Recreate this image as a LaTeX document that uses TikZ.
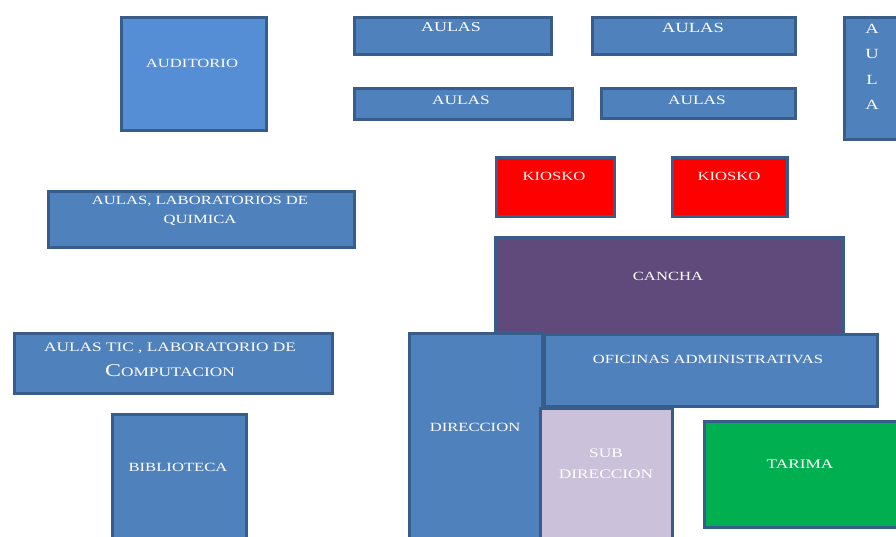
\documentclass[tikz,border=0pt]{standalone}
\usepackage{fontspec}
\newfontfamily\lblfont[FakeStretch=1.33]{Liberation Serif}
\definecolor{blu}{HTML}{4F81BD}
\definecolor{audblu}{HTML}{558ED5}
\definecolor{bord}{HTML}{385D8A}
\definecolor{cancha}{HTML}{604A7B}
\definecolor{lila}{HTML}{CCC1DA}
\definecolor{verde}{HTML}{00B050}
\definecolor{rojo}{HTML}{FF0000}
\tikzset{
  room/.style={draw=bord, line width=2.5pt, anchor=north west, inner sep=0pt, fill=blu},
  lbl/.style={text=white, font=\lblfont\fontsize{12.5}{19}\selectfont, align=center, inner sep=0pt},
}
\begin{document}
\begin{tikzpicture}[x=1pt,y=-1pt]
\clip (0,0) rectangle (896,536);
\fill[white] (0,0) rectangle (896,536);
% rooms
\node[room, fill=audblu, minimum width=145pt, minimum height=113pt] (aud) at (120,16) {};
\node[room, minimum width=197pt, minimum height=37pt] (aulasA) at (353,16) {};
\node[room, minimum width=203pt, minimum height=37pt] (aulasB) at (591,16) {};
\node[room, minimum width=218pt, minimum height=31pt] (aulasC) at (353,87) {};
\node[room, minimum width=194pt, minimum height=30pt] (aulasD) at (600,87) {};
\node[room, minimum width=70pt, minimum height=122pt] (aulaV) at (843,16) {};
\node[room, fill=rojo, minimum width=118pt, minimum height=59pt] (kioA) at (495,156) {};
\node[room, fill=rojo, minimum width=115pt, minimum height=59pt] (kioB) at (671,156) {};
\node[room, minimum width=306pt, minimum height=56pt] (quim) at (47,190) {};
\node[room, fill=cancha, minimum width=348pt, minimum height=97pt] (can) at (494,236) {};
\node[room, minimum width=318pt, minimum height=60pt] (tic) at (13,332) {};
\node[room, minimum width=134pt, minimum height=140pt] (bib) at (111,413) {};
\node[room, minimum width=133pt, minimum height=220pt] (dir) at (408,332) {};
\node[room, minimum width=333pt, minimum height=72pt] (ofi) at (543,333) {};
\node[room, fill=lila, minimum width=132pt, minimum height=150pt] (sub) at (539,407) {};
\node[room, fill=verde, minimum width=210pt, minimum height=106pt] (tar) at (703,420) {};
% labels
\node[lbl] (audT) at (192,63) {AUDITORIO};
\node[lbl, font=\lblfont\fontsize{13.5}{16}\selectfont] (aulasAT) at (451,27) {AULAS};
\node[lbl, font=\lblfont\fontsize{14}{16}\selectfont] (aulasBT) at (693,28) {AULAS};
\node[lbl, font=\lblfont\fontsize{13}{16}\selectfont] (aulasCT) at (461,100) {AULAS};
\node[lbl, font=\lblfont\fontsize{13}{16}\selectfont] (aulasDT) at (697,100) {AULAS};
\node[lbl, font=\lblfont\fontsize{14}{25.3}\selectfont] (aulaVT) at (872,67) {A\\U\\L\\A};
\node[lbl] (kioAT) at (554,176) {KIOSKO};
\node[lbl] (kioBT) at (729,176) {KIOSKO};
\node[lbl] (quimT) at (200,210.5) {AULAS, LABORATORIOS DE\\QUIMICA};
\node[lbl] (canT) at (668,276) {CANCHA};
\node[lbl, font=\lblfont\fontsize{13}{25}\selectfont] (ticT) at (170,359.5) {AULAS TIC , LABORATORIO DE\\{\fontsize{18}{25}\selectfont C}OMPUTACION};
\node[lbl] (bibT) at (178,467) {BIBLIOTECA};
\node[lbl] (dirT) at (475,427) {DIRECCION};
\node[lbl] (ofiT) at (708,359) {OFICINAS ADMINISTRATIVAS};
\node[lbl, font=\lblfont\fontsize{13}{21}\selectfont] (subT) at (606,463.5) {SUB\\DIRECCION};
\node[lbl, font=\lblfont\fontsize{13}{16}\selectfont] (tarT) at (800,464) {TARIMA};
\end{tikzpicture}
\end{document}
